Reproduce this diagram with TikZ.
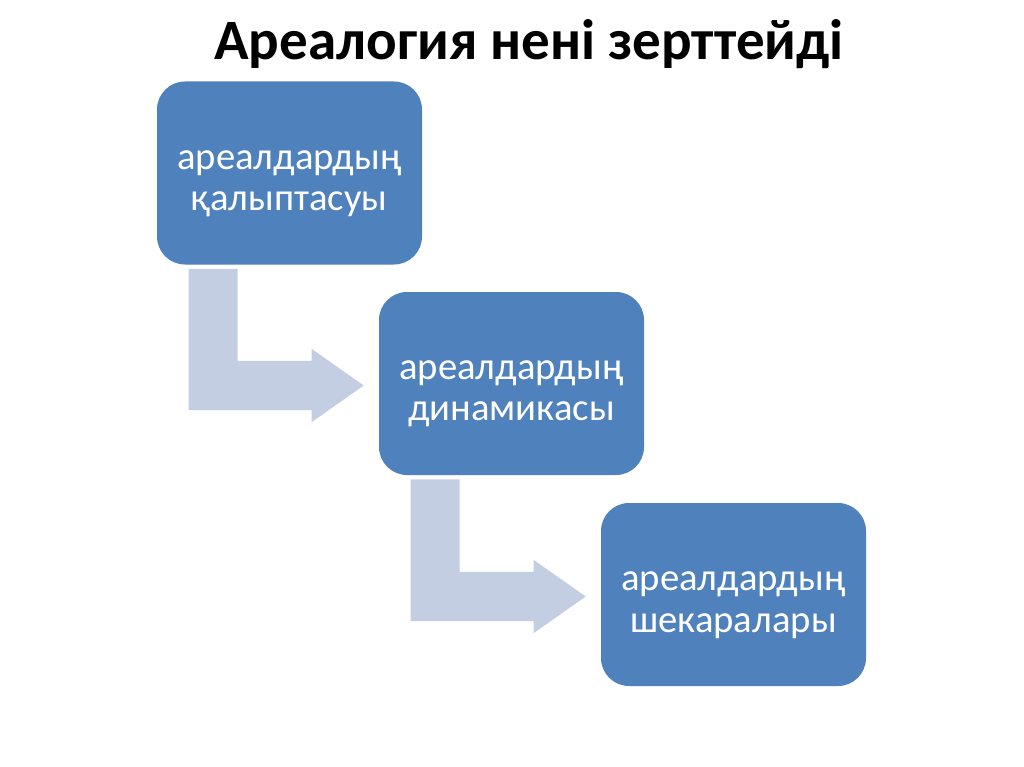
\documentclass[tikz,border=0pt]{standalone}
\usepackage{fontspec}
\setmainfont{Carlito}
\usetikzlibrary{calc}

\definecolor{boxblue}{HTML}{4F81BD}
\definecolor{flowgray}{HTML}{C4CEE3}
\newcommand{\toppad}{\rule{0pt}{30pt}}

\begin{document}
\begin{tikzpicture}[
    x=0.75pt, y=-0.75pt,
    box/.style={rectangle, fill=boxblue, rounded corners=21pt, minimum width=198.75pt,
                minimum height=137.25pt, align=center, text=white,
                font=\fontsize{29}{31}\selectfont},
    flow/.style={fill=flowgray}
  ]
    \useasboundingbox[fill=white] (0,0) rectangle (1024,767);

    \node[anchor=base, font=\fontsize{42.8}{50}\selectfont\bfseries] (title) at (529,60)
      {Ареалогия нені зерттейді};

    \node[box] (forming) at (289.5,173) {\toppad ареалдардың\\қалыптасуы};
    \node[box] (dynamics) at (511.5,383.5) {\toppad ареалдардың\\динамикасы};
    \node[box] (borders) at (733.5,594.5) {\toppad ареалдардың\\шекаралары};

    % bent arrows between the boxes
    \foreach \a/\b in {forming/dynamics, dynamics/borders}
      \fill[flow] let \p1=(\a.south west), \p2=(\b.west) in
        (\x1+24pt,\y1-3pt) -- (\x1+60.75pt,\y1-3pt) -- (\x1+60.75pt,\y2-1.5pt+18.4pt)
        -- (\x2-50.25pt,\y2-1.5pt+18.4pt) -- (\x2-50.25pt,\y2-1.5pt+27.4pt)
        -- (\x2-11.25pt,\y2-1.5pt) -- (\x2-50.25pt,\y2-1.5pt-27.4pt)
        -- (\x2-50.25pt,\y2-1.5pt-18.4pt) -- (\x1+24pt,\y2-1.5pt-18.4pt) -- cycle;
  \end{tikzpicture}
\end{document}
